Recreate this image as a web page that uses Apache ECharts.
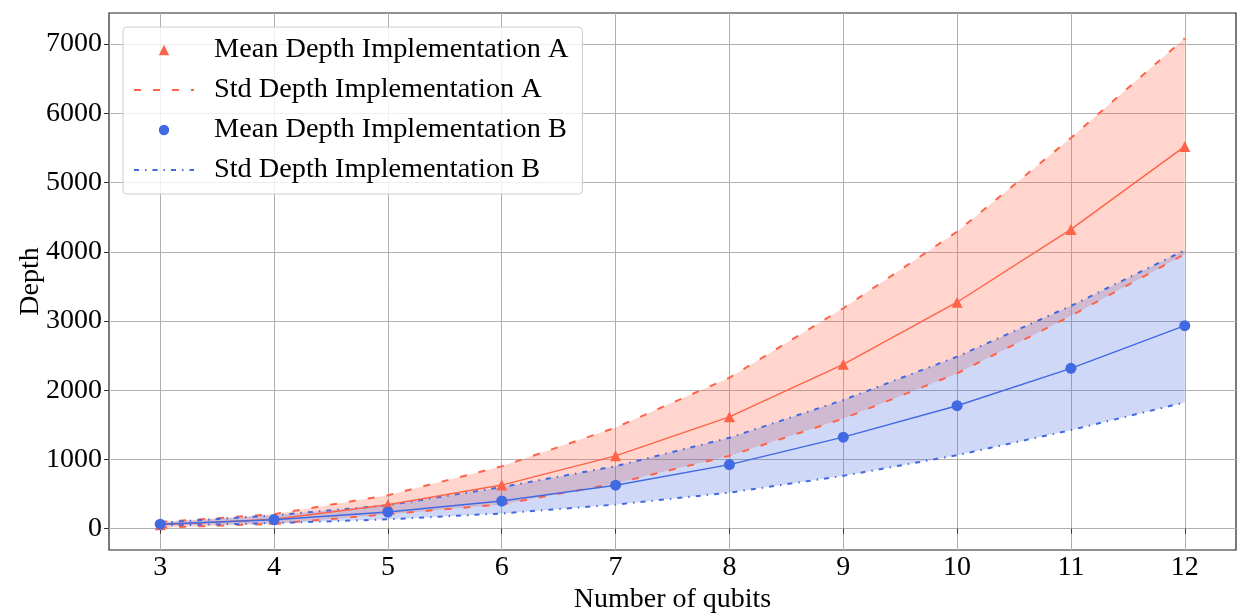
<!DOCTYPE html>
<html>
<head>
<meta charset="utf-8">
<script src="https://cdn.jsdelivr.net/npm/echarts@6/dist/echarts.min.js"></script>
<style>html,body{margin:0;padding:0;background:#fff}#chart{width:1238px;height:614px}</style>
</head>
<body>
<div id="chart"></div>
<script>
const qubits = [3, 4, 5, 6, 7, 8, 9, 10, 11, 12];
const meanA  = [55, 136, 345, 630, 1052, 1616, 2374, 3271, 4323, 5522];
const upperA = [95, 210, 483, 900, 1460, 2180, 3184, 4290, 5644, 7083];
const lowerA = [15, 70, 210, 350, 655, 1052, 1590, 2243, 3074, 3965];
const meanB  = [65, 130, 240, 400, 628, 926, 1322, 1776, 2316, 2933];
const upperB = [85, 193, 338, 600, 903, 1313, 1858, 2485, 3218, 4023];
const lowerB = [45, 80, 135, 220, 348, 521, 763, 1062, 1424, 1824];
const xTicks = [3, 4, 5, 6, 7, 8, 9, 10, 11, 12];
const yTicks = [0, 1000, 2000, 3000, 4000, 5000, 6000, 7000];

const names = ['Mean Depth Implementation A', 'Std Depth Implementation A',
               'Mean Depth Implementation B', 'Std Depth Implementation B'];

const RED = '#FF6347', BLUE = '#4169E1';
const FONT = 'Liberation Serif';
const pts = arr => qubits.map((q, i) => [q, arr[i]]);

function band(upper, lower, fill, z) {
  return {
    type: 'custom', silent: true, z: z, clip: true,
    data: pts(upper),
    encode: {x: 0, y: 1},
    renderItem: function (params, api) {
      if (params.dataIndex !== 0) return {type: 'group', children: []};
      const top = qubits.map((q, i) => api.coord([q, upper[i]]));
      const bot = qubits.map((q, i) => api.coord([q, lower[i]])).reverse();
      return {type: 'polygon', shape: {points: top.concat(bot)}, style: {fill: fill}};
    }
  };
}

const chart = echarts.init(document.getElementById('chart'), null, {renderer: 'canvas'});
chart.setOption({
  animation: false,
  textStyle: {fontFamily: FONT},
  grid: {left: 109, right: 2, top: 13, bottom: 64, containLabel: false, outerBoundsMode: 'none',
         show: true, borderColor: '#222', borderWidth: 1.2, backgroundColor: 'transparent'},
  xAxis: {
    type: 'value', min: 2.55, max: 12.45,
    name: 'Number of qubits', nameLocation: 'middle', nameGap: 36, nameMoveOverlap: false,
    nameTextStyle: {fontFamily: FONT, fontSize: 28, color: '#000'},
    axisLine: {show: false},
    axisTick: {show: true, length: 5, customValues: xTicks, lineStyle: {color: '#333'}},
    axisLabel: {customValues: xTicks, fontFamily: FONT, fontSize: 28, color: '#000', margin: 4,
                formatter: v => String(v)},
    splitLine: {show: true, lineStyle: {color: '#b0b0b0', width: 1}}
  },
  yAxis: {
    type: 'value', min: -308, max: 7449,
    name: 'Depth', nameLocation: 'middle', nameGap: 64, nameMoveOverlap: false,
    nameTextStyle: {fontFamily: FONT, fontSize: 28, color: '#000'},
    axisLine: {show: false},
    axisTick: {show: true, length: 5, customValues: yTicks, lineStyle: {color: '#333'}},
    axisLabel: {customValues: yTicks, fontFamily: FONT, fontSize: 28, color: '#000', margin: 7,
                formatter: v => String(v)},
    splitLine: {show: true, lineStyle: {color: '#b0b0b0', width: 1}}
  },
  legend: {
    left: 123, top: 27, orient: 'vertical',
    padding: [8, 14, 9, 10],
    itemWidth: 60, itemHeight: 13, itemGap: 10,
    backgroundColor: 'rgba(255,255,255,0.8)', borderColor: '#cccccc', borderWidth: 1, borderRadius: 4,
    textStyle: {fontFamily: FONT, fontSize: 28.3, color: '#000', lineHeight: 30, padding: [0, 0, 0, 15]},
    data: [
      {name: names[0], lineStyle: {opacity: 0}},
      {name: names[1], itemStyle: {opacity: 0}},
      {name: names[2], lineStyle: {opacity: 0}},
      {name: names[3], itemStyle: {opacity: 0}}
    ]
  },
  series: [
    band(upperA, lowerA, 'rgba(255,99,71,0.27)', 1),
    band(upperB, lowerB, 'rgba(65,105,225,0.25)', 2),
    {type: 'line', name: names[0], data: pts(meanA), symbol: 'triangle', symbolSize: 11,
     itemStyle: {color: RED}, lineStyle: {color: RED, width: 1.4}, z: 5},
    {type: 'line', name: names[1], data: pts(upperA), symbol: 'none', itemStyle: {color: RED},
     lineStyle: {color: RED, width: 2, type: [7, 12]}, z: 4},
    {type: 'line', name: names[1], data: pts(lowerA), symbol: 'none', itemStyle: {color: RED},
     lineStyle: {color: RED, width: 2, type: [7, 12]}, z: 4},
    {type: 'line', name: names[2], data: pts(meanB), symbol: 'circle', symbolSize: 11,
     itemStyle: {color: BLUE}, lineStyle: {color: BLUE, width: 1.4}, z: 5},
    {type: 'line', name: names[3], data: pts(upperB), symbol: 'none', itemStyle: {color: BLUE},
     lineStyle: {color: BLUE, width: 2, type: [5, 6, 1.5, 6]}, z: 4},
    {type: 'line', name: names[3], data: pts(lowerB), symbol: 'none', itemStyle: {color: BLUE},
     lineStyle: {color: BLUE, width: 2, type: [5, 6, 1.5, 6]}, z: 4}
  ]
});
</script>
</body>
</html>
